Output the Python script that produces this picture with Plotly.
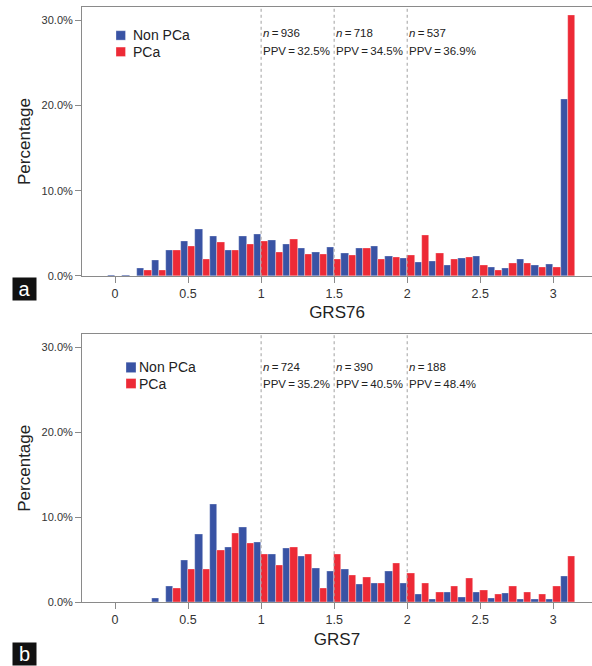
import plotly.graph_objects as go

# ---- data ----
bins = [0.0, 0.1, 0.2, 0.3, 0.4, 0.5, 0.6, 0.7, 0.8, 0.9, 1.0, 1.1, 1.2, 1.3, 1.4, 1.5,
        1.6, 1.7, 1.8, 1.9, 2.0, 2.1, 2.2, 2.3, 2.4, 2.5, 2.6, 2.7, 2.8, 2.9, 3.0, 3.1]

nonpca_a = [0.05, 0.05, 0.86, 1.8, 3.0, 4.06, 5.47, 4.6, 3.0, 4.7, 4.84, 4.18, 3.75, 3.24, 2.77, 3.4,
            2.66, 3.28, 3.5, 2.34, 2.1, 1.56, 1.68, 1.25, 2.07, 2.34, 1.05, 0.86, 1.91, 1.2, 1.33, 20.7]
pca_a = [0, 0, 0.7, 0.7, 3.0, 3.48, 2.0, 4.0, 3.0, 3.75, 4.02, 2.73, 4.26, 2.5, 2.5, 1.95,
         2.46, 3.2, 1.95, 2.23, 2.46, 4.73, 2.7, 2.0, 2.23, 1.2, 0.7, 1.45, 1.45, 0.98, 0.98, 30.6]

nonpca_b = [0.05, 0.05, 0.05, 0.47, 1.83, 4.94, 8.05, 11.55, 6.42, 8.79, 7.12, 5.6, 6.34, 5.37, 3.97, 3.66,
            3.89, 2.06, 2.18, 3.66, 2.26, 0.9, 0.35, 1.13, 0.58, 1.13, 0.47, 1.0, 0.35, 0.35, 0.35, 3.0]
pca_b = [0, 0, 0, 0, 1.63, 3.89, 3.89, 6.15, 8.13, 6.89, 5.64, 4.4, 6.42, 5.64, 1.67, 5.64,
         3.15, 2.92, 2.18, 4.63, 3.42, 2.18, 1.17, 1.9, 2.88, 1.4, 0.93, 1.9, 1.17, 0.93, 1.9, 5.4]

thresholds = [1, 1.5, 2]
n_a = [936, 718, 537]
ppv_a = ["32.5%", "34.5%", "36.9%"]
n_b = [724, 390, 188]
ppv_b = ["35.2%", "40.5%", "48.4%"]

x_ticks = [0, 0.5, 1, 1.5, 2, 2.5, 3]
x_ticklabels = ["0", "0.5", "1", "1.5", "2", "2.5", "3"]
y_ticks = [0, 10, 20, 30]
y_ticklabels = ["0.0%", "10.0%", "20.0%", "30.0%"]

series_names = ["Non PCa", "PCa"]
BLUE = "#3953a4"
RED = "#ed2a36"
AX = "#8a8a8a"
FONT = "Liberation Sans, Arial, sans-serif"
THIN = "\u2009"

W, H = 592, 666

fig = go.Figure()

def bars(vals, name, color, xa, ya):
    fig.add_trace(go.Bar(
        x=bins, y=vals, name=name, xaxis=xa, yaxis=ya, showlegend=False,
        marker=dict(color=color, line=dict(color="rgba(255,255,255,0.55)", width=0.6)),
    ))

bars(nonpca_a, series_names[0], BLUE, "x", "y")
bars(pca_a, series_names[1], RED, "x", "y")
bars(nonpca_b, series_names[0], BLUE, "x2", "y2")
bars(pca_b, series_names[1], RED, "x2", "y2")

x_left = 82 / W
dom_a = [1 - 278.3 / H, 1 - 7.3 / H]
dom_b = [1 - 607.7 / H, 1 - 337.3 / H]
xr = [-0.226, 3.265]
yr = [0, 31.56]

def xaxis(domain_anchor, title):
    return dict(
        domain=[x_left, 1], anchor=domain_anchor, range=xr,
        showline=True, linecolor=AX, linewidth=1, mirror=True,
        ticks="outside", ticklen=6, tickcolor=AX, tickwidth=1,
        tickvals=x_ticks, ticktext=x_ticklabels,
        tickfont=dict(family=FONT, size=12.5, color="#333333"),
        showgrid=False, zeroline=False,
        title=dict(text=title, font=dict(family=FONT, size=17, color="#222222"), standoff=6),
    )

def yaxis(domain, anchor):
    return dict(
        domain=domain, anchor=anchor, range=yr,
        showline=True, linecolor=AX, linewidth=1,
        ticks="outside", ticklen=6, tickcolor=AX, tickwidth=1,
        tickvals=y_ticks, ticktext=y_ticklabels,
        tickfont=dict(family=FONT, size=11, color="#333333"),
        showgrid=False, zeroline=False,
        title=dict(text="Percentage", font=dict(family=FONT, size=17, color="#222222"), standoff=6),
    )

shapes = []
annotations = []
TXT = dict(family=FONT, size=11.5, color="#222222")
for xa, ya, ns, ppvs, yn, gap in [("x", "y", n_a, ppv_a, 33.3, 18.4), ("x2", "y2", n_b, ppv_b, 370, 17.3)]:
    for t, n, p in zip(thresholds, ns, ppvs):
        shapes.append(dict(type="line", xref=xa, yref=ya + " domain", x0=t, x1=t, y0=0, y1=1,
                           line=dict(color="#a0a0a0", width=1, dash="dot")))
        annotations.append(dict(xref=xa, yref="paper", x=t, y=1 - yn / H, xanchor="left", yanchor="middle",
                                text=f"<i>n</i>{THIN}={THIN}{n}", showarrow=False, font=TXT))
        annotations.append(dict(xref=xa, yref="paper", x=t, y=1 - (yn + gap) / H, xanchor="left",
                                yanchor="middle", text=f"PPV{THIN}={THIN}{p}", showarrow=False, font=TXT))

# panel letters
for letter, ytop in [("a", 280), ("b", 648)]:
    annotations.append(dict(xref="paper", yref="paper", x=12 / W, y=1 - ytop / H, xanchor="left", yanchor="top",
                            text=letter, showarrow=False, bgcolor="#111111", width=23, height=22,
                            borderpad=0, align="center",
                            font=dict(family=FONT, size=20, color="white")))

# legends (swatch + label) for each panel
legend_spec = [
    (116, 125.5, [(31, 40.5), (47.5, 57)], 133, [35.5, 52]),
    (126, 136, [(365.5, 376), (382, 392)], 139, [370.5, 387]),
]
for sx0, sx1, sys, tx, tys in legend_spec:
    for (y0, y1), ty, name, col in zip(sys, tys, series_names, [BLUE, RED]):
        shapes.append(dict(type="rect", xref="paper", yref="paper", x0=sx0 / W, x1=sx1 / W,
                           y0=1 - y1 / H, y1=1 - y0 / H, fillcolor=col,
                           line=dict(color="rgba(255,255,255,0.5)", width=0.6)))
        annotations.append(dict(xref="paper", yref="paper", x=tx / W, y=1 - ty / H, xanchor="left",
                                yanchor="middle", text=name, showarrow=False, xshift=-2,
                                font=dict(family=FONT, size=14, color="#222222")))

fig.update_layout(
    width=W, height=H,
    margin=dict(l=0, r=0, t=0, b=0),
    paper_bgcolor="white", plot_bgcolor="white",
    barmode="group", bargap=0, bargroupgap=0,
    xaxis=xaxis("y", "GRS76"),
    yaxis=yaxis(dom_a, "x"),
    xaxis2=xaxis("y2", "GRS7"),
    yaxis2=yaxis(dom_b, "x2"),
    shapes=shapes,
    annotations=annotations,
    showlegend=False,
)

fig.write_html("out.html", config={"displayModeBar": False},
               post_script="document.body.style.margin='0px';")
